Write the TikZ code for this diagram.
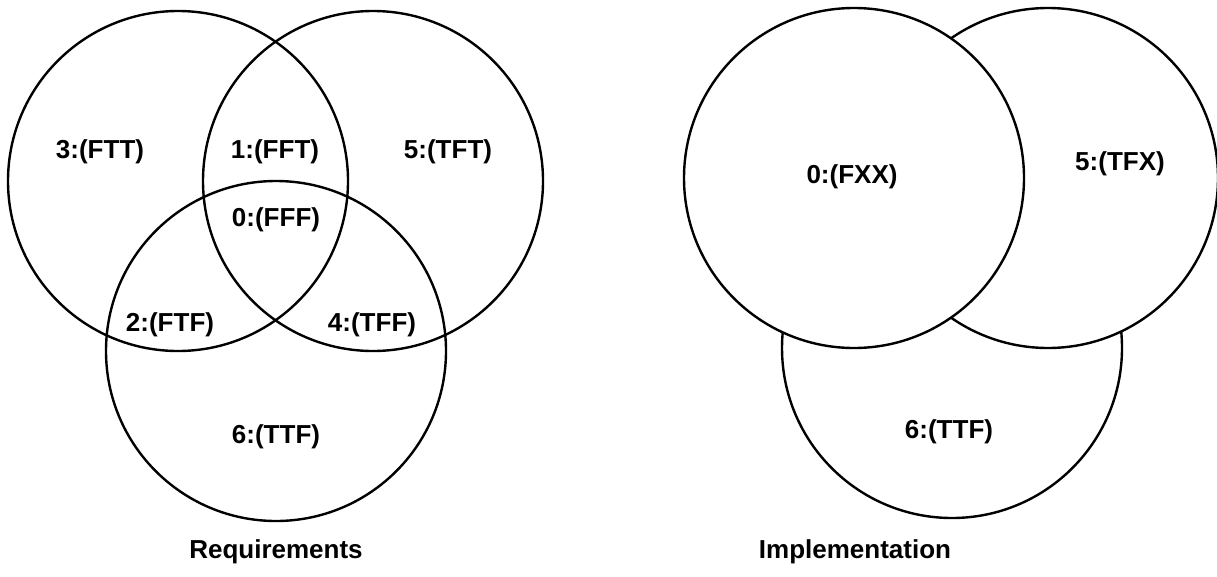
\documentclass[tikz,border=0pt]{standalone}
\usepackage{fontspec}
\setmainfont{Liberation Sans}
\begin{document}
\begin{tikzpicture}[x=1pt,y=-1pt,
  venn/.style={draw=black, line width=2.4pt, fill=white},
  lab/.style={font=\fontsize{26}{30}\selectfont\bfseries, inner sep=0pt}]
\useasboundingbox (0,0) rectangle (1217,576);
\clip (0,0) rectangle (1217,576);
% Requirements
\draw[venn, fill=none] (178,181) circle[radius=170];
\draw[venn, fill=none] (373,181) circle[radius=170];
\draw[venn, fill=none] (276,351) circle[radius=170];
\node[lab] (l3) at (100,152) {3:(FTT)};
\node[lab] (l1) at (275,152) {1:(FFT)};
\node[lab] (l5) at (448,152) {5:(TFT)};
\node[lab] (l0) at (276,220) {0:(FFF)};
\node[lab] (l2) at (170,325) {2:(FTF)};
\node[lab] (l4) at (372,325) {4:(TFF)};
\node[lab] (l6) at (276,437) {6:(TTF)};
\node[lab] (req) at (276,552) {Requirements};
% Implementation
\draw[venn] (952,348) circle[radius=170];
\draw[venn] (1048,178) circle[radius=170];
\draw[venn] (854,178) circle[radius=170];
\node[lab] (r0) at (852,177) {0:(FXX)};
\node[lab] (r5) at (1120,164) {5:(TFX)};
\node[lab] (r6) at (949,432) {6:(TTF)};
\node[lab] (imp) at (855,552) {Implementation};
\end{tikzpicture}
\end{document}
